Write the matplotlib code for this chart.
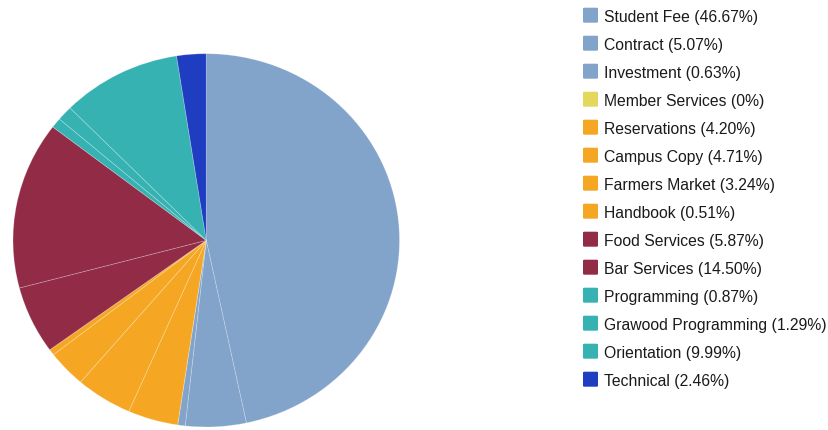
import matplotlib
matplotlib.use("Agg")
import matplotlib.pyplot as plt
from matplotlib.patches import FancyBboxPatch

labels = ["Student Fee", "Contract", "Investment", "Member Services", "Reservations",
          "Campus Copy", "Farmers Market", "Handbook", "Food Services", "Bar Services",
          "Programming", "Grawood Programming", "Orientation", "Technical"]
pct_text = ["46.67%", "5.07%", "0.63%", "0%", "4.20%", "4.71%", "3.24%", "0.51%",
            "5.87%", "14.50%", "0.87%", "1.29%", "9.99%", "2.46%"]
values = [46.67, 5.07, 0.63, 0.0, 4.20, 4.71, 3.24, 0.51, 5.87, 14.50, 0.87, 1.29, 9.99, 2.46]

BLUEGRAY = "#82A3CA"
YELLOW = "#E3D85C"
ORANGE = "#F5A724"
MAROON = "#922B46"
TEAL = "#36B2B2"
BLUE = "#1F3DC0"
colors = [BLUEGRAY, BLUEGRAY, BLUEGRAY, YELLOW, ORANGE, ORANGE, ORANGE, ORANGE,
          MAROON, MAROON, TEAL, TEAL, TEAL, BLUE]

W, H = 829, 431
fig = plt.figure(figsize=(W / 100, H / 100), dpi=100)
fig.patch.set_facecolor("white")

# pie axes in pixel box: x 13..399, y(top) 54.7..428
left, right, top, bottom = 13, 399.5, 54.7, 428
ax = fig.add_axes([left / W, (H - bottom) / H, (right - left) / W, (bottom - top) / H])
ax.pie(values, colors=colors, startangle=90, counterclock=False, radius=1.0,
       wedgeprops=dict(edgecolor=(1, 1, 1, 0.25), linewidth=0.6))
ax.set_aspect("auto")
ax.set_xlim(-1, 1)
ax.set_ylim(-1, 1)
ax.axis("off")

# legend
sq = 15
x_sq = 583
x_txt = 604
y0 = 16.2
dy = 28.0
for i, (lab, p, c) in enumerate(zip(labels, pct_text, colors)):
    yc = y0 + i * dy
    patch = FancyBboxPatch(((x_sq) / W, (H - yc - sq / 2) / H), sq / W, sq / H,
                           boxstyle="round,pad=0,rounding_size=0.002",
                           transform=fig.transFigure, facecolor=c, edgecolor="none")
    fig.patches.append(patch)
    fig.text(x_txt / W, (H - yc) / H, f"{lab} ({p})", ha="left", va="center_baseline",
             fontsize=11.3, family=["Liberation Sans", "DejaVu Sans"], color="#1a1a1a")

fig.savefig("out.png", dpi=100, facecolor="white")
